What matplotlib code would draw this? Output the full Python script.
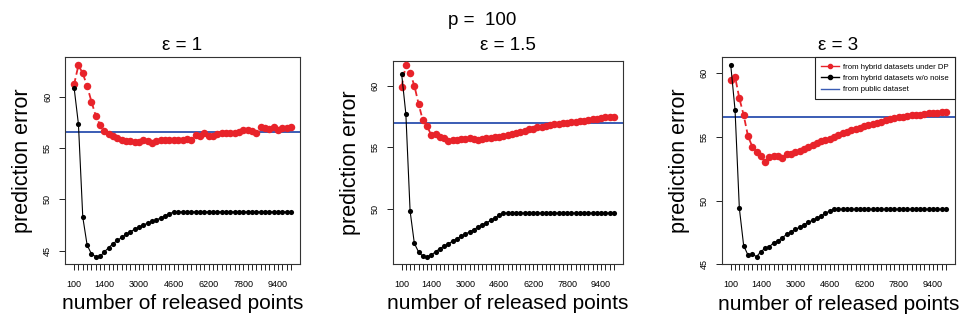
import matplotlib
matplotlib.use("Agg")
import matplotlib.pyplot as plt
from matplotlib.lines import Line2D

plt.rcParams["font.family"] = ["Liberation Sans", "DejaVu Sans"]

# released points (categorical x axis)
released = [100, 200, 400, 600, 800, 1000, 1200, 1400, 1600, 1800,
            2000, 2200, 2400, 2600, 2800, 3000, 3200, 3400, 3600, 3800,
            4000, 4200, 4400, 4600, 4800, 5000, 5200, 5400, 5600, 5800,
            6000, 6200, 6400, 6600, 6800, 7000, 7200, 7400, 7600, 7800,
            8000, 8200, 8400, 8600, 8800, 9000, 9200, 9400, 9600, 9800,
            10000]
labelled = [100, 1400, 3000, 4600, 6200, 7800, 9400]

eps_titles = ["\u03b5 = 1", "\u03b5 = 1.5", "\u03b5 = 3"]

dp_eps1 = [61.23, 63.10, 62.30, 61.07, 59.55, 58.15, 57.27, 56.70, 56.40, 56.23,
           56.04, 55.80, 55.70, 55.75, 55.65, 55.58, 55.80, 55.75, 55.55, 55.70,
           55.78, 55.78, 55.78, 55.84, 55.84, 55.80, 55.87, 55.80, 56.30, 56.20,
           56.46, 56.23, 56.23, 56.40, 56.52, 56.52, 56.52, 56.52, 56.56, 56.80,
           56.76, 56.70, 56.46, 57.05, 57.00, 56.90, 57.10, 56.80, 57.00, 57.00,
           57.10]
nonoise_eps1 = [60.90, 57.34, 48.28, 45.55, 44.68, 44.42, 44.45, 44.90, 45.30, 45.70,
                46.00, 46.30, 46.60, 46.85, 47.10, 47.30, 47.50, 47.70, 47.85, 48.00,
                48.20, 48.40, 48.60, 48.79, 48.79, 48.79, 48.79, 48.79, 48.79, 48.79,
                48.79, 48.79, 48.79, 48.79, 48.79, 48.79, 48.79, 48.79, 48.79, 48.79,
                48.79, 48.79, 48.79, 48.79, 48.79, 48.79, 48.79, 48.79, 48.79, 48.79,
                48.79]
public_eps1 = 56.56

dp_eps15 = [59.92, 61.73, 61.06, 60.03, 58.54, 57.20, 56.72, 55.99, 56.10, 55.83,
            55.72, 55.50, 55.56, 55.60, 55.64, 55.66, 55.72, 55.66, 55.58, 55.64,
            55.72, 55.77, 55.83, 55.83, 55.93, 56.04, 56.10, 56.18, 56.26, 56.37,
            56.48, 56.53, 56.64, 56.69, 56.75, 56.80, 56.86, 56.91, 56.96, 57.02,
            57.05, 57.07, 57.13, 57.15, 57.24, 57.29, 57.34, 57.37, 57.43, 57.45,
            57.48]
nonoise_eps15 = [61.00, 57.72, 49.81, 47.18, 46.48, 46.12, 46.10, 46.23, 46.50, 46.75,
                 46.95, 47.15, 47.35, 47.55, 47.75, 47.95, 48.10, 48.30, 48.50, 48.70,
                 48.85, 49.05, 49.25, 49.45, 49.65, 49.65, 49.65, 49.65, 49.65, 49.65,
                 49.65, 49.65, 49.65, 49.65, 49.65, 49.65, 49.65, 49.65, 49.65, 49.65,
                 49.65, 49.65, 49.65, 49.65, 49.65, 49.65, 49.65, 49.65, 49.65, 49.65,
                 49.65]
public_eps15 = 56.97

dp_eps3 = [59.48, 59.74, 58.04, 56.73, 55.08, 54.24, 53.85, 53.51, 53.06, 53.40,
           53.51, 53.53, 53.32, 53.64, 53.69, 53.80, 53.90, 54.06, 54.21, 54.37,
           54.50, 54.66, 54.79, 54.84, 55.00, 55.16, 55.31, 55.37, 55.52, 55.63,
           55.71, 55.86, 55.94, 56.05, 56.13, 56.20, 56.31, 56.41, 56.52, 56.57,
           56.60, 56.62, 56.70, 56.70, 56.75, 56.81, 56.86, 56.88, 56.91, 56.94,
           56.99]
nonoise_eps3 = [60.65, 57.12, 49.40, 46.47, 45.73, 45.81, 45.60, 46.00, 46.26, 46.39,
                46.70, 46.85, 47.10, 47.35, 47.55, 47.75, 47.90, 48.10, 48.30, 48.45,
                48.60, 48.80, 49.00, 49.20, 49.32, 49.32, 49.32, 49.32, 49.32, 49.32,
                49.32, 49.32, 49.32, 49.32, 49.32, 49.32, 49.32, 49.32, 49.32, 49.32,
                49.32, 49.32, 49.32, 49.32, 49.32, 49.32, 49.32, 49.32, 49.32, 49.32,
                49.32]
public_eps3 = 56.54

dp_series = [dp_eps1, dp_eps15, dp_eps3]
nonoise_series = [nonoise_eps1, nonoise_eps15, nonoise_eps3]
public_values = [public_eps1, public_eps15, public_eps3]

RED = "#e8232a"
BLUE = "#3a5cb4"

W, H = 966, 325
# axes boxes in pixels: left, right, top, bottom
boxes = [(65, 300, 57, 264), (392.7, 622.7, 61, 264), (721.7, 955, 57.3, 264.3)]
ylims = [(43.7, 63.9), (45.5, 62.03), (45.0, 61.26)]
title_pads = [5, 8, 5]

fig = plt.figure(figsize=(W / 100, H / 100), dpi=100)
idx = list(range(len(released)))
tick_pos = [i for i, r in enumerate(released) if r in labelled]

for k, (l, r, t, b) in enumerate(boxes):
    ax = fig.add_axes([l / W, 1 - b / H, (r - l) / W, (b - t) / H])
    ax.plot(idx, dp_series[k], color=RED, linestyle=(0, (3.5, 2)), linewidth=1.3,
            marker="o", markersize=5.4, markeredgewidth=0, zorder=3)
    ax.plot(idx, nonoise_series[k], color="black", linewidth=0.8,
            marker="o", markersize=3.7, markeredgewidth=0, zorder=4)
    ax.axhline(public_values[k], color=BLUE, linewidth=1.4, zorder=2)
    ax.set_xlim(-2.1, len(released) + 1.1)
    ax.set_ylim(*ylims[k])
    ax.set_xticks(idx, minor=True)
    ax.set_xticks(tick_pos)
    ax.set_xticklabels([str(released[i]) for i in tick_pos])
    ax.set_yticks([v for v in (45, 50, 55, 60) if ylims[k][0] <= v <= ylims[k][1]])
    ax.tick_params(axis="both", which="both", direction="out", length=4.3,
                   width=0.7, labelsize=6.5, color="#222222")
    ax.tick_params(axis="x", pad=7)
    ax.tick_params(axis="y", pad=5)
    for lab in ax.get_yticklabels():
        lab.set_rotation(90)
        lab.set_va("center")
    for sp in ax.spines.values():
        sp.set_linewidth(0.8)
        sp.set_color("#333333")
    ax.set_xlabel("number of released points", fontsize=15, labelpad=4)
    ax.set_ylabel("prediction error", fontsize=15.5, labelpad=7)
    ax.set_title(eps_titles[k], fontsize=13.5, pad=title_pads[k])
    if k == 2:
        handles = [
            Line2D([], [], color=RED, linewidth=1.0, marker="o", markersize=3),
            Line2D([], [], color="black", linewidth=1.0, marker="o", markersize=3),
            Line2D([], [], color=BLUE, linewidth=1.0),
        ]
        leg = ax.legend(handles,
                        ["from hybrid datasets under DP",
                         "from hybrid datasets w/o noise",
                         "from public dataset"],
                        loc="upper right", fontsize=5.6, frameon=True,
                        fancybox=False, edgecolor="#222222", framealpha=1,
                        borderaxespad=0, handlelength=2.3, handletextpad=0.6,
                        labelspacing=0.5, borderpad=0.75)
        leg.get_frame().set_linewidth(0.8)

fig.text(481.7 / W, 1 - 20.7 / H, "p =  100", fontsize=13.5, ha="center", va="center")

fig.savefig("out.png", dpi=100)
